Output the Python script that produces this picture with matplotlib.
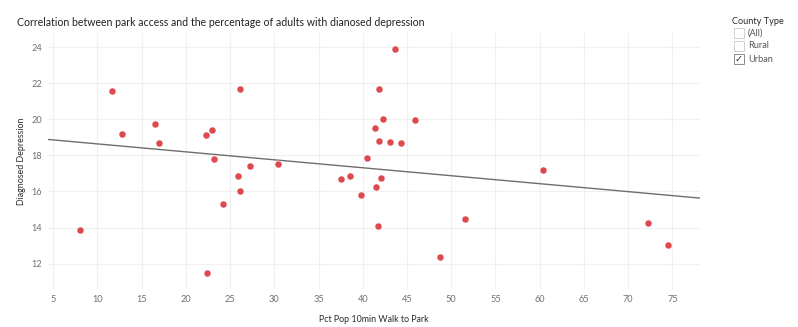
import numpy as np
import matplotlib as mpl
import matplotlib.pyplot as plt
from matplotlib.patches import Rectangle

mpl.rcParams.update({"font.family": ["Lato", "DejaVu Sans"], "font.size": 7})

# urban counties: park access vs. diagnosed depression
walk_pct = [8.09, 11.7, 12.8, 16.49, 16.94, 22.32, 23.0, 23.23, 22.44, 24.24,
            25.94, 26.16, 26.09, 27.26, 30.39, 37.51, 38.56, 39.84, 40.52, 41.42,
            42.25, 41.8, 43.04, 44.3, 41.53, 42.1, 41.72, 41.87, 43.68, 45.87,
            60.4, 51.59, 48.69, 72.23, 74.46]
depression = [13.85, 21.59, 19.17, 19.74, 18.72, 19.11, 19.42, 17.81, 11.46, 15.33,
              16.85, 16.02, 21.7, 17.44, 17.5, 16.72, 16.85, 15.83, 17.85, 19.5,
              20.03, 18.81, 18.76, 18.72, 16.26, 16.76, 14.06, 21.7, 23.9, 19.96,
              17.18, 14.48, 12.39, 14.24, 13.02]
x_ticks = [5, 10, 15, 20, 25, 30, 35, 40, 45, 50, 55, 60, 65, 70, 75]
y_ticks = [12, 14, 16, 18, 20, 22, 24]
filter_items = ["(All)", "Rural", "Urban"]
filter_checked = [False, False, True]

fig = plt.figure(figsize=(7.98, 3.27), dpi=100)
ax = fig.add_axes([0.0605, 0.117, 0.8165, 0.782])

x = np.array(walk_pct)
y = np.array(depression)
ax.scatter(x, y, s=26, color="#dc4a4f", edgecolor="white", linewidth=0.4, zorder=3)

# linear trend line across the full axis range
xlim = (4.45, 78.1)
slope, icept = np.polyfit(x, y, 1)
xs = np.array(xlim)
ax.plot(xs, slope * xs + icept, color="#6e6e6e", lw=1.0, zorder=2)

ax.set_xlim(*xlim)
ax.set_ylim(10.6, 24.8)
ax.set_xticks(x_ticks)
ax.set_yticks(y_ticks)
ax.grid(True, color="#f0f0f0", lw=0.8)
ax.set_axisbelow(True)
for s in ax.spines.values():
    s.set_visible(False)
ax.tick_params(length=0, labelsize=6.6, labelcolor="#707070", pad=4.5)
ax.set_xlabel("Pct Pop 10min Walk to Park", fontsize=6.4, color="#2a2a2a", labelpad=8)
ax.set_ylabel("Diagnosed Depression", fontsize=6.4, color="#2a2a2a", labelpad=4)

fig.text(17 / 798, 1 - 22 / 327, "Correlation between park access and the percentage of adults with dianosed depression",
         fontsize=7.6, color="#222222", va="center", ha="left")

# filter card
fig.text(732 / 798, 1 - 21 / 327, "County Type", fontsize=6.6, color="#2a2a2a", va="center", ha="left")
for i, (lab, chk) in enumerate(zip(filter_items, filter_checked)):
    yc = 1 - (33 + 13 * i) / 327
    w, h = 10 / 798, 10 / 327
    fig.add_artist(Rectangle((734 / 798, yc - h / 2), w, h, transform=fig.transFigure,
                             facecolor="white", edgecolor="#8a8a8a" if chk else "#d0d0d0", lw=0.7))
    if chk:
        fig.text(734 / 798 + w / 2, yc, "✓", fontsize=7, color="#333333", ha="center", va="center",
                 family="DejaVu Sans")
    fig.text(748 / 798, yc, lab, fontsize=6.6, color="#555555", va="center", ha="left")

fig.savefig("out.png", dpi=100, facecolor="white")
